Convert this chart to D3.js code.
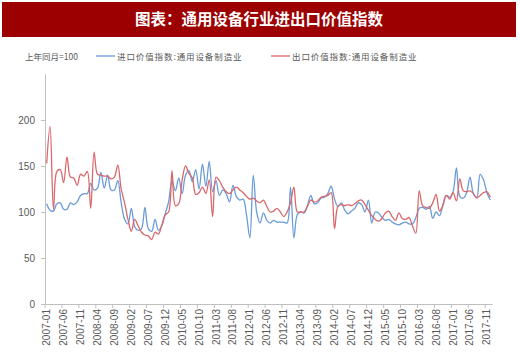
<!DOCTYPE html>
<html lang="zh">
  <head>
    <meta charset="utf-8">
    <title>通用设备行业进出口价值指数</title>
    <style>
    body {margin: 0; background: #fff;}
    .axis path, .axis line {stroke: #bfbfbf;}
    .axis text {fill: #595959; font-family: "Liberation Sans", Arial, sans-serif; font-size: 10px;}
    </style>
  </head>
  <body>
    <div id="chart"></div>

    <script src="https://d3js.org/d3.v7.min.js"></script>
    <script>
      // 进口 / 出口价值指数（上年同月=100），2007-01 至 2017-12
      var importIdx = [109,102,101,109,110,103,103,110,108,111,118,120,120,131,124,126,143,126,140,124,124,134,110,92,87,104,
        84,80,82,105,82,79,92,80,85,98,111,
        134,123,137,120,140,145,133,146,125,152,128,155,122,134,118,
        124,120,111,129,117,113,114,97,72,140,100,88,99,91,88,91,89,89,89,88,127,72,97,100,99,107,118,109,110,115,116,120,128,114,106,
        110,102,98,101,104,110,108,100,113,88,100,99,94,91,92,89,87,86,88,89,
        87,87,94,104,105,103,106,93,100,96,108,118,116,122,148,117,115,121,138,120,116,141,135,121,113];

      var exportIdx = [153,193,103,144,146,132,160,138,137,129,141,139,144,104,165,141,140,139,139,136,138,151,125,110,92,79,
        92,85,78,75,74,70,78,76,86,97,100,
        145,107,109,135,150,142,137,119,121,127,120,135,95,138,134,
        127,122,120,124,127,124,121,117,114,115,112,110,113,106,100,101,104,100,95,100,110,127,100,100,100,106,113,111,112,116,117,118,121,82,106,
        108,107,108,107,109,112,113,108,102,96,92,90,93,99,101,95,91,99,93,92,
        94,85,77,123,107,105,104,110,119,101,107,118,114,121,112,136,123,122,123,120,115,118,121,122,116];

      var tickLabels = ["2007-01","2007-06","2007-11","2008-04","2008-09","2009-02","2009-07","2009-12",
        "2010-05","2010-10","2011-03","2011-08","2012-01","2012-06","2012-11","2013-04","2013-09",
        "2014-02","2014-07","2014-12","2015-05","2015-10","2016-03","2016-08","2017-01","2017-06","2017-11"];

      var yTicks = [0, 50, 100, 150, 200];

      var seriesNames = ["进口价值指数:通用设备制造业", "出口价值指数:通用设备制造业"];
      var colors = ["#6b9bd8", "#d9686b"];

      // months 2007-01 .. 2017-12
      var fmt = d3.timeFormat("%Y-%m");
      var months = d3.timeMonth.range(new Date(2007, 0, 1), new Date(2018, 0, 1)).map(fmt);

      var W = 520, H = 352;
      var svg = d3.select("#chart").append("svg")
        .attr("width", W).attr("height", H);

      // title bar
      svg.append("rect")
        .attr("x", 2).attr("y", 2).attr("width", 514).attr("height", 35)
        .attr("fill", "#9c0000");
      svg.append("text")
        .attr("x", 259).attr("y", 20)
        .attr("dy", "0.35em")
        .attr("text-anchor", "middle")
        .style("fill", "#fff")
        .style("font-family", "'Noto Sans CJK SC', sans-serif")
        .style("font-weight", "bold")
        .style("font-size", "15.5px")
        .text("图表：通用设备行业进出口价值指数");

      var x = d3.scaleBand().domain(months).range([45, 492]);
      var y = d3.scaleLinear().domain([0, 250]).range([304, 74]);
      var bw = x.bandwidth();

      // y axis
      var gy = svg.append("g")
        .attr("class", "axis")
        .attr("transform", "translate(45,0)")
        .call(d3.axisLeft(y).tickValues(yTicks).tickSize(4).tickSizeOuter(0));
      gy.selectAll("text").attr("x", -10);

      // x axis
      var gx = svg.append("g")
        .attr("class", "axis")
        .attr("transform", "translate(0,304)")
        .call(d3.axisBottom(x).tickValues(tickLabels).tickSize(4).tickSizeOuter(0));
      gx.selectAll(".tick line").attr("x1", -bw / 2).attr("x2", -bw / 2);
      gx.selectAll(".tick text")
        .attr("transform", "rotate(-90)")
        .attr("x", -5).attr("y", 0).attr("dy", "0.35em")
        .style("text-anchor", "end");

      // lines
      var line = d3.line()
        .x(function(d, i) { return x(months[i]) + bw / 2; })
        .y(function(d) { return y(d); })
        .curve(d3.curveCatmullRom);

      [importIdx, exportIdx].forEach(function(s, k) {
        svg.append("path")
          .datum(s)
          .attr("fill", "none")
          .attr("stroke", colors[k])
          .attr("stroke-width", 1.3)
          .attr("d", line);
      });

      // legend
      var lg = svg.append("g")
        .style("font-family", "'Noto Sans CJK SC', sans-serif")
        .style("font-size", "8.5px")
        .style("fill", "#595959");
      lg.append("text").attr("x", 25).attr("y", 57).attr("dy", "0.35em").text("上年同月=100");
      var lx = [96, 271];
      seriesNames.forEach(function(n, k) {
        lg.append("line")
          .attr("x1", lx[k]).attr("x2", lx[k] + 19)
          .attr("y1", 56).attr("y2", 56)
          .attr("stroke", colors[k]).attr("stroke-width", 1.3);
        lg.append("text")
          .attr("x", lx[k] + 21).attr("y", 57).attr("dy", "0.35em")
          .style("letter-spacing", "0.9px")
          .text(n);
      });
    </script>
  </body>
</html>
